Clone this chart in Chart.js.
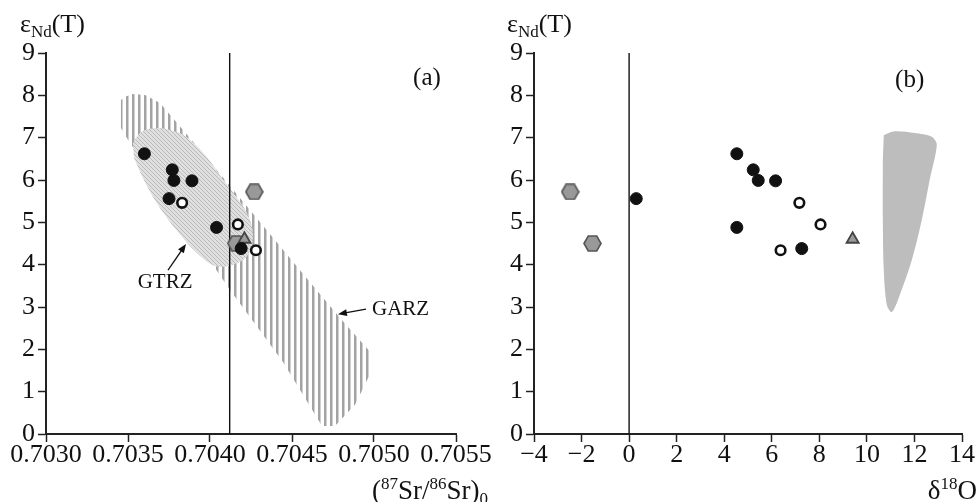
<!DOCTYPE html>
<html>
<head>
<meta charset="utf-8">
<script src="https://cdn.jsdelivr.net/npm/chart.js@4.4.1/dist/chart.umd.min.js"></script>
<style>
  html, body { margin: 0; padding: 0; background: #fff; }
  #wrap { position: relative; width: 977px; height: 502px; overflow: hidden; }
  canvas { position: absolute; top: 0; }
  #chart-a { left: 0; }
  #chart-b { left: 490px; }
</style>
</head>
<body>
<div id="wrap">
  <canvas id="chart-a" width="500" height="502"></canvas>
  <canvas id="chart-b" width="487" height="502"></canvas>
</div>
<script>
const SERIF = '"Liberation Serif", "Times New Roman", serif';
const TICK_SIZE = 26;

// eNd(T) of the samples, shared by both panels
const ndFilled = [6.62, 6.24, 5.99, 5.98, 5.56, 4.88, 4.38];
const ndOpen = [5.46, 4.95, 4.34];
const ndHex = [5.72, 4.50];
const ndTri = [4.60];

// (87Sr/86Sr)0
const srFilled = [0.70360, 0.70377, 0.70378, 0.70389, 0.70375, 0.70404, 0.70419];
const srOpen = [0.70383, 0.70417, 0.70428];
const srHex = [0.70427, 0.70416];
const srTri = [0.70421];

// d18O
const oFilled = [4.53, 5.22, 5.43, 6.16, 0.30, 4.53, 7.26];
const oOpen = [7.16, 8.05, 6.37];
const oHex = [-2.48, -1.54];
const oTri = [9.40];

// divider lines
const srDivide = 0.70412;
const oDivide = 0;

// GARZ field outline (Sr, Nd)
const garzSr = [0.703457, 0.703490, 0.703530, 0.703604, 0.703695, 0.703878, 0.704244, 0.704549, 0.704793,
  0.704976, 0.704988, 0.704884, 0.704762, 0.704683, 0.704445, 0.704122, 0.704018, 0.703756, 0.703500, 0.703457];
const garzNd = [7.89, 7.98, 8.03, 8.01, 7.82, 6.99, 5.29, 3.87, 2.74,
  1.94, 1.51, 0.69, 0.19, 0.19, 1.70, 3.40, 3.99, 5.46, 6.95, 7.23];

// GTRZ field outline (Sr, Nd)
const gtrzSr = [0.703530, 0.703573, 0.703634, 0.703726, 0.703848, 0.703970, 0.704073, 0.704152, 0.704232,
  0.704262, 0.704232, 0.704134, 0.704030, 0.703927, 0.703805, 0.703683, 0.703591, 0.703537];
const gtrzNd = [6.87, 7.11, 7.21, 7.21, 7.04, 6.59, 6.05, 5.65, 5.17,
  4.70, 4.23, 3.99, 3.97, 4.25, 4.77, 5.41, 6.05, 6.52];

// field in the d18O panel
const fieldO = [10.71, 11.17, 12.01, 12.73, 12.94, 12.64, 12.31, 11.89, 11.38, 11.05, 10.84, 10.71, 10.67, 10.67];
const fieldNd = [7.06, 7.15, 7.11, 7.02, 6.83, 6.00, 5.06, 4.11, 3.28, 2.88, 3.05, 3.87, 5.06, 6.47];

// tick labels
const ndTicks = [0, 1, 2, 3, 4, 5, 6, 7, 8, 9];
const srTicks = [0.7030, 0.7035, 0.7040, 0.7045, 0.7050, 0.7055];
const oTicks = [-4, -2, 0, 2, 4, 6, 8, 10, 12, 14];

const pts = (xs, ys) => xs.map((x, i) => ({ x, y: ys[i] }));

function makePattern(w, h, draw) {
  const c = document.createElement('canvas');
  c.width = w; c.height = h;
  draw(c.getContext('2d'));
  return c.getContext('2d').createPattern(c, 'repeat');
}

const vHatch = makePattern(6, 6, g => {
  g.fillStyle = '#a3a3a3';
  g.fillRect(0, 0, 2.5, 6);
});

const fineHatch = makePattern(4, 4, g => {
  g.fillStyle = '#e0e0e0';
  g.fillRect(0, 0, 4, 4);
  g.fillStyle = '#bababa';
  for (let i = 0; i < 4; i++) g.fillRect(i, i, 1, 1);
});

function hexagon(w, h) {
  const c = document.createElement('canvas');
  c.width = w; c.height = h;
  const g = c.getContext('2d');
  const cx = w / 2, cy = h / 2, rx = w / 2 - 1, ry = h / 2 - 1;
  g.beginPath();
  g.moveTo(cx - rx, cy);
  g.lineTo(cx - rx / 2, cy - ry);
  g.lineTo(cx + rx / 2, cy - ry);
  g.lineTo(cx + rx, cy);
  g.lineTo(cx + rx / 2, cy + ry);
  g.lineTo(cx - rx / 2, cy + ry);
  g.closePath();
  g.fillStyle = '#999';
  g.fill();
  g.lineWidth = 1.6;
  g.strokeStyle = '#555';
  g.stroke();
  return c;
}
const hexImg = hexagon(19, 17);

function richText(ctx, runs, x, y, align) {
  let total = 0;
  runs.forEach(r => { ctx.font = r.s + 'px ' + SERIF; total += ctx.measureText(r.t).width; });
  let cx = align === 'right' ? x - total : x;
  ctx.textAlign = 'left';
  ctx.textBaseline = 'alphabetic';
  runs.forEach(r => {
    ctx.font = r.s + 'px ' + SERIF;
    ctx.fillText(r.t, cx, y + (r.dy || 0));
    cx += ctx.measureText(r.t).width;
  });
}

// labels, arrows and axis titles
const annotate = {
  id: 'annotate',
  afterDraw(chart, args, opts) {
    const ctx = chart.ctx;
    const sx = chart.scales.x, sy = chart.scales.y;
    ctx.save();
    ctx.fillStyle = '#111';
    ctx.strokeStyle = '#111';
    (opts.labels || []).forEach(l => {
      ctx.font = l.size + 'px ' + SERIF;
      ctx.textAlign = l.align || 'center';
      ctx.textBaseline = 'middle';
      ctx.fillText(l.text, sx.getPixelForValue(l.x), sy.getPixelForValue(l.y));
    });
    (opts.arrows || []).forEach(a => {
      const x0 = sx.getPixelForValue(a.from[0]), y0 = sy.getPixelForValue(a.from[1]);
      const x1 = sx.getPixelForValue(a.to[0]), y1 = sy.getPixelForValue(a.to[1]);
      const ang = Math.atan2(y1 - y0, x1 - x0);
      ctx.lineWidth = 1.3;
      ctx.beginPath();
      ctx.moveTo(x0, y0);
      ctx.lineTo(x1 - 6 * Math.cos(ang), y1 - 6 * Math.sin(ang));
      ctx.stroke();
      ctx.beginPath();
      ctx.moveTo(x1, y1);
      ctx.lineTo(x1 - 9 * Math.cos(ang) + 3.5 * Math.sin(ang), y1 - 9 * Math.sin(ang) - 3.5 * Math.cos(ang));
      ctx.lineTo(x1 - 9 * Math.cos(ang) - 3.5 * Math.sin(ang), y1 - 9 * Math.sin(ang) + 3.5 * Math.cos(ang));
      ctx.closePath();
      ctx.fill();
    });
    (opts.titles || []).forEach(t => richText(ctx, t.runs, t.x, t.y, t.align));
    ctx.restore();
  }
};

function sampleSets(xF, xO, xH, xT) {
  return [
    { data: pts(xO, ndOpen), pointRadius: 4.8, pointBorderWidth: 2.6, pointBackgroundColor: '#fff', pointBorderColor: '#111', order: 1 },
    { data: pts(xF, ndFilled), pointRadius: 6, pointBorderWidth: 1, pointBackgroundColor: '#111', pointBorderColor: '#111', order: 2 },
    { data: pts(xT, ndTri), pointStyle: 'triangle', pointRadius: 7, pointBorderWidth: 1.8, pointBackgroundColor: '#999', pointBorderColor: '#444', order: 3 },
    { data: pts(xH, ndHex), pointStyle: hexImg, order: 4 },
  ];
}

function divider(x) {
  return { data: [{ x, y: 0 }, { x, y: 9 }], showLine: true, borderColor: '#111', borderWidth: 1.4, pointRadius: 0, order: 5 };
}

function field(xs, ys, bg, tension, order) {
  return { data: pts(xs, ys), showLine: true, fill: 'shape', backgroundColor: bg, borderWidth: 0,
    borderColor: 'rgba(0,0,0,0)', pointRadius: 0, tension, order };
}

const tickFont = { family: SERIF, size: TICK_SIZE, lineHeight: 1 };

function axis(extra) {
  return Object.assign({
    type: 'linear',
    border: { color: '#222', width: 2 },
    grid: { drawOnChartArea: false, drawTicks: true, tickLength: 8, tickWidth: 1.5, tickColor: '#222' },
  }, extra);
}

function baseOptions(yWidth, rightPad, xScale, annotations) {
  return {
    responsive: false,
    animation: false,
    devicePixelRatio: 1,
    layout: { padding: { top: 53, right: rightPad, left: 0, bottom: 0 } },
    plugins: { legend: { display: false }, tooltip: { enabled: false }, annotate: annotations },
    scales: {
      x: xScale,
      y: axis({
        min: 0, max: 9,
        afterBuildTicks: s => { s.ticks = ndTicks.map(v => ({ value: v })); },
        afterFit: s => { s.width = yWidth; },
        ticks: { color: '#111', font: tickFont, padding: 3, autoSkip: false },
      }),
    },
  };
}

const yTitle = x => ({ x, y: 32, runs: [{ t: 'ε', s: 26 }, { t: 'Nd', s: 17, dy: 5 }, { t: '(T)', s: 26 }] });

new Chart(document.getElementById('chart-a'), {
  type: 'scatter',
  data: {
    datasets: [
      ...sampleSets(srFilled, srOpen, srHex, srTri),
      divider(srDivide),
      field(gtrzSr, gtrzNd, fineHatch, 0.35, 8),
      field(garzSr, garzNd, vHatch, 0, 9),
    ],
  },
  options: baseOptions(46, 44, axis({
    min: 0.7030, max: 0.7055,
    afterBuildTicks: s => { s.ticks = srTicks.map(v => ({ value: v })); },
    afterFit: s => { s.height = 68; },
    ticks: { color: '#111', font: tickFont, padding: 0, autoSkip: false, maxRotation: 0,
      callback: v => v.toFixed(4) },
  }), {
    labels: [
      { text: '(a)', x: 0.705323, y: 8.39, size: 25 },
      { text: 'GTRZ', x: 0.703726, y: 3.57, size: 21 },
      { text: 'GARZ', x: 0.704988, y: 2.93, size: 21, align: 'left' },
    ],
    arrows: [
      { from: [0.703744, 3.87], to: [0.703854, 4.49] },
      { from: [0.704951, 2.95], to: [0.704780, 2.83] },
    ],
    titles: [
      yTitle(20),
      { x: 372, y: 499, runs: [{ t: '(', s: 27 }, { t: '87', s: 17, dy: -10 }, { t: 'Sr/', s: 27 },
        { t: '86', s: 17, dy: -10 }, { t: 'Sr)', s: 27 }, { t: '0', s: 17, dy: 5 }] },
    ],
  }),
  plugins: [annotate],
});

new Chart(document.getElementById('chart-b'), {
  type: 'scatter',
  data: {
    datasets: [
      ...sampleSets(oFilled, oOpen, oHex, oTri),
      divider(oDivide),
      field(fieldO, fieldNd, '#bdbdbd', 0.3, 8),
    ],
  },
  options: baseOptions(44, 15, axis({
    min: -4, max: 14,
    afterBuildTicks: s => { s.ticks = oTicks.map(v => ({ value: v })); },
    afterFit: s => { s.height = 68; },
    ticks: { color: '#111', font: tickFont, padding: 0, autoSkip: false, maxRotation: 0,
      callback: v => (v < 0 ? '\u2212' + Math.abs(v) : String(v)) },
  }), {
    labels: [{ text: '(b)', x: 11.80, y: 8.36, size: 25 }],
    titles: [
      yTitle(17),
      { x: 487, y: 499, align: 'right', runs: [{ t: 'δ', s: 27 }, { t: '18', s: 17, dy: -10 }, { t: 'O', s: 27 }] },
    ],
  }),
  plugins: [annotate],
});
</script>
</body>
</html>
